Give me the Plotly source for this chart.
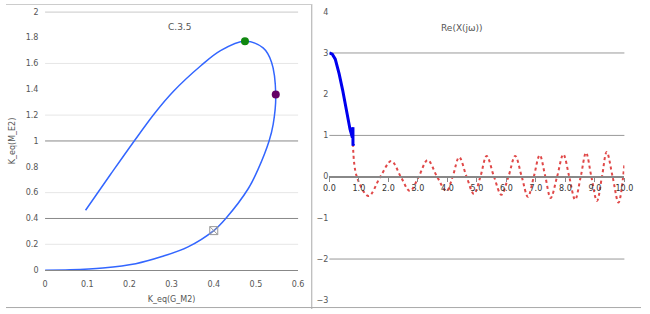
import plotly.graph_objects as go

# ---- Left chart data (parametric curve) ----
curve_x = [0.096, 0.155, 0.211, 0.260, 0.304, 0.370, 0.416, 0.474, 0.517, 0.537, 0.547,
           0.541, 0.531, 0.505, 0.482, 0.428, 0.400, 0.339, 0.277, 0.215, 0.137, 0.060, 0.0]
curve_y = [0.464, 0.740, 0.998, 1.215, 1.383, 1.584, 1.700, 1.772, 1.720, 1.610, 1.360,
           1.130, 0.998, 0.780, 0.632, 0.398, 0.306, 0.180, 0.105, 0.050, 0.017, 0.003, 0.0]
green_pt = (0.474, 1.772)
purple_pt = (0.547, 1.360)
cross_pt = (0.400, 0.306)
left_title = "C.3.5"
left_xtitle = "K_eq(G_M2)"
left_ytitle = "K_eq(M_E2)"
left_xticks = [0, 0.1, 0.2, 0.3, 0.4, 0.5, 0.6]
left_yticks = [0, 0.2, 0.4, 0.6, 0.8, 1.0, 1.2, 1.4, 1.6, 1.8, 2.0]
left_light_grid = [0.2, 0.6, 1.2, 1.6]
left_dark_grid = [0.4, 1.0, 2.0]

# ---- Right chart data ----
blue_t = [0.0, 0.1, 0.2, 0.33, 0.45, 0.57, 0.70, 0.78, 0.80, 0.80, 0.82]
blue_y = [3.0, 2.97, 2.85, 2.50, 2.10, 1.60, 1.15, 0.95, 1.20, 0.75, 0.80]
red_t = [0.80, 0.93, 1.33, 1.73, 2.10, 2.42, 2.73, 3.03, 3.33, 3.65, 3.97, 4.18, 4.40, 4.65,
         4.90, 5.12, 5.33, 5.58, 5.83, 6.07, 6.30, 6.52, 6.73, 6.93, 7.13, 7.32, 7.50, 7.72,
         7.93, 8.13, 8.33, 8.52, 8.70, 8.88, 9.07, 9.24, 9.40, 9.60, 9.80, 10.0]
red_y = [0.80, 0.0, -0.47, 0.0, 0.38, 0.0, -0.35, 0.0, 0.40, 0.0, -0.35, 0.0, 0.47, 0.0,
         -0.42, 0.0, 0.50, 0.0, -0.44, 0.0, 0.50, 0.0, -0.49, 0.0, 0.52, 0.0, -0.52, 0.0,
         0.54, 0.0, -0.56, 0.0, 0.58, 0.0, -0.59, 0.0, 0.60, 0.0, -0.63, 0.30]
right_title = "Re(X(jω))"
right_xticks = [0, 1, 2, 3, 4, 5, 6, 7, 8, 9, 10]
right_yticks = [-3, -2, -1, 0, 1, 2, 3, 4]
right_dark_grid = [3, 1, -2]

W, H = 650, 314
def px_x(p): return p / W
def px_y(p): return (H - p) / H

font = dict(family="DejaVu Sans", size=8, color="#555555")

fig = go.Figure()
fig.add_trace(go.Scatter(x=curve_x, y=curve_y, mode="lines", line=dict(color="#3366ff", width=1.5, shape="spline"),
                         xaxis="x", yaxis="y", showlegend=False))
fig.add_trace(go.Scatter(x=[green_pt[0]], y=[green_pt[1]], mode="markers",
                         marker=dict(color="#118811", size=8), xaxis="x", yaxis="y", showlegend=False))
fig.add_trace(go.Scatter(x=[purple_pt[0]], y=[purple_pt[1]], mode="markers",
                         marker=dict(color="#660066", size=8), xaxis="x", yaxis="y", showlegend=False))
fig.add_trace(go.Scatter(x=[cross_pt[0]], y=[cross_pt[1]], mode="markers",
                         marker=dict(color="#999999", size=8, symbol="square-x-open", line=dict(width=1)),
                         xaxis="x", yaxis="y", showlegend=False))

fig.add_trace(go.Scatter(x=red_t, y=red_y, mode="lines", line=dict(color="#e04848", width=2, dash="dot", shape="spline"),
                         xaxis="x2", yaxis="y2", showlegend=False))
fig.add_trace(go.Scatter(x=blue_t, y=blue_y, mode="lines", line=dict(color="#0000ee", width=3),
                         xaxis="x2", yaxis="y2", showlegend=False))

shapes = []
for v in left_light_grid:
    shapes.append(dict(type="line", xref="x domain", yref="y", x0=0, x1=1, y0=v, y1=v,
                       line=dict(color="#e6e6e6", width=1), layer="below"))
for v in left_dark_grid:
    shapes.append(dict(type="line", xref="x domain", yref="y", x0=0, x1=1, y0=v, y1=v,
                       line=dict(color="#888888", width=1), layer="below"))
for v in right_dark_grid:
    shapes.append(dict(type="line", xref="x2 domain", yref="y2", x0=0, x1=1, y0=v, y1=v,
                       line=dict(color="#999999", width=1), layer="below"))
# panel borders
shapes.append(dict(type="line", xref="paper", yref="paper", x0=px_x(313), x1=px_x(313), y0=0, y1=1,
                   line=dict(color="#aaaaaa", width=1)))
shapes.append(dict(type="line", xref="paper", yref="paper", x0=0, x1=px_x(313), y0=px_y(0.5), y1=px_y(0.5),
                   line=dict(color="#cccccc", width=1)))
shapes.append(dict(type="line", xref="paper", yref="paper", x0=0, x1=1, y0=px_y(312.5), y1=px_y(312.5),
                   line=dict(color="#aaaaaa", width=1)))

fig.update_layout(
    width=W, height=H, margin=dict(l=0, r=0, t=0, b=0),
    paper_bgcolor="white", plot_bgcolor="white", font=font, shapes=shapes,
    xaxis=dict(domain=[px_x(40), px_x(299)], range=[0, 0.6], tickvals=left_xticks,
               ticktext=["0", "0.1", "0.2", "0.3", "0.4", "0.5", "0.6"],
               showgrid=False, zeroline=False, showline=True, linecolor="#888888", linewidth=1,
               ticks="outside", ticklen=6, tickcolor="rgba(0,0,0,0)", anchor="y",
               title=dict(text=left_xtitle, font=font, standoff=8)),
    yaxis=dict(domain=[px_y(274), px_y(8)], range=[0, 2], tickvals=left_yticks,
               ticktext=["0", "0.2", "0.4", "0.6", "0.8", "1", "1.2", "1.4", "1.6", "1.8", "2"],
               showgrid=False, zeroline=False, showline=False, ticks="outside", ticklen=4,
               tickcolor="rgba(0,0,0,0)", anchor="x",
               title=dict(text=left_ytitle, font=font, standoff=8)),
    xaxis2=dict(domain=[px_x(331), px_x(633)], range=[0, 10], tickvals=right_xticks,
                ticktext=["%.1f" % v for v in right_xticks],
                showgrid=False, zeroline=False, showline=True, linecolor="#888888", linewidth=2,
                ticks="outside", ticklen=4, tickcolor="#888888",
                anchor="free", position=px_y(178), tickfont=dict(family="DejaVu Sans", size=8, color="#333333")),
    yaxis2=dict(domain=[px_y(305), px_y(8)], range=[-3, 4], tickvals=right_yticks,
                showgrid=False, zeroline=False, showline=False, ticks="", anchor="x2"),
    annotations=[
        dict(text=left_title, x=px_x(164), y=px_y(24), xref="paper", yref="paper", showarrow=False,
             yanchor="middle", font=dict(family="DejaVu Sans", size=9, color="#555555")),
        dict(text=right_title, x=px_x(490), y=px_y(25), xref="paper", yref="paper", showarrow=False,
             yanchor="middle", font=dict(family="DejaVu Sans", size=9, color="#555555")),
    ],
)

fig.write_html("out.html")
